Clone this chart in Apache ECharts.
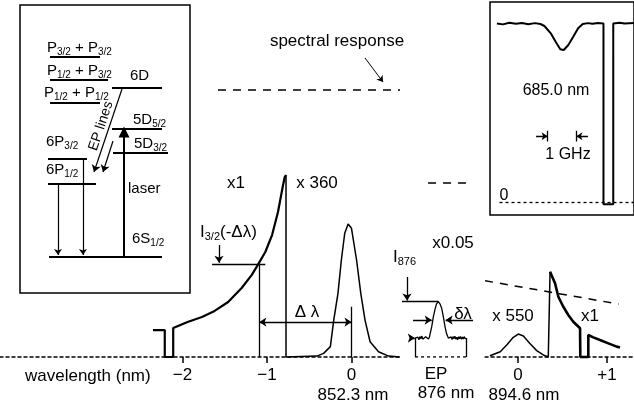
<!DOCTYPE html>
<html lang="en">
<head>
<meta charset="UTF-8">
<title>EP spectrum</title>
<style>html,body{margin:0;padding:0;background:#fff;}</style>
</head>
<body>
<div id="main" style="width:634px;height:411px;"></div>
<script src="https://cdn.jsdelivr.net/npm/echarts@6/dist/echarts.min.js"></script>
<script>
// ---------- data ----------
// level scheme: y = drawing height above 6S1/2, x = horizontal place in the box
var levelNames = ['6S1/2', '6P1/2', '6P3/2', '5D3/2', '5D5/2', '6D', 'P1/2+P1/2', 'P1/2+P3/2', 'P3/2+P3/2'];
var levelY  = [0, 73, 98, 104, 128, 169, 154, 177, 200];
var levelX0 = [29, 28, 28, 93, 92, 92, 30, 30, 30];
var levelX1 = [142, 76, 67, 148, 142, 142, 80, 88, 80];
var laserArrow = [[104, 0], [104, 125]];
var decayArrows = [[[38, 73], [38, 2]], [[63, 98], [63, 2]]];
var epArrows = [[[102, 168], [74, 85]], [[93, 116], [83, 85]]];

// 852.3 nm part: x = wavelength offset (nm), y = signal
var wing852X = [-2.35, -2.21, -2.21, -2.11, -2.11, -2.09, -1.94, -1.77, -1.62, -1.46, -1.30, -1.18, -1.11, -1.02, -0.94, -0.87, -0.81, -0.79, -0.775];
var wing852Y = [0.148, 0.148, 0, 0, 0.159, 0.165, 0.192, 0.220, 0.253, 0.302, 0.379, 0.451, 0.505, 0.577, 0.670, 0.797, 0.945, 0.989, 1.0];
var line852X = [-0.775, -0.775, -0.41, -0.33, -0.25, -0.21, -0.16, -0.12, -0.08, -0.04, 0.0, 0.06, 0.11, 0.16, 0.22, 0.32, 0.44, 0.57];
var line852Y = [1.0, 0, 0.005, 0.02, 0.057, 0.203, 0.35, 0.533, 0.68, 0.731, 0.707, 0.533, 0.35, 0.203, 0.084, 0.029, 0.005, 0];
var ticks852 = [-2, -1, 0];
var tickLabels852 = ['\u22122', '\u22121', '0'];
var deltaLambda = [-1.09, 0];
var i32Level = 0.511;

// EP at 876 nm
var epX = [-0.272, -0.26, -0.249, -0.238, -0.226, -0.215, -0.204, -0.192, -0.181, -0.17, -0.158, -0.147, -0.136, -0.124, -0.113, -0.102, -0.09,
  -0.075, -0.055, -0.036, -0.018, 0.004, 0.024, 0.044, 0.064, 0.083, 0.1, 0.112,
  0.122, 0.133, 0.144, 0.155, 0.166, 0.177, 0.188, 0.199, 0.21, 0.221, 0.232, 0.243, 0.254, 0.265, 0.276, 0.287, 0.298, 0.309, 0.32, 0.331];
var epY = [0.104, 0.113, 0.097, 0.109, 0.095, 0.112, 0.1, 0.115, 0.098, 0.108, 0.094, 0.111, 0.101, 0.114, 0.099, 0.11, 0.118,
  0.166, 0.222, 0.262, 0.292, 0.304, 0.291, 0.266, 0.218, 0.166, 0.13, 0.116,
  0.104, 0.113, 0.097, 0.11, 0.096, 0.112, 0.1, 0.114, 0.098, 0.109, 0.095, 0.111, 0.1, 0.113, 0.097, 0.11, 0.099, 0.112, 0.1, 0.104];
var epBracket = [-0.272, 0.331];
var epPeak = 0.304;
var epHalf = [-0.075, 0.09];
var epHalfY = 0.203;

// 894.6 nm part
var res894X = [-0.315, -0.2, -0.127, -0.053, 0.003, 0.06, 0.131, 0.21, 0.284, 0.34, 0.36, 0.36];
var res894Y = [0.007, 0.029, 0.066, 0.108, 0.126, 0.115, 0.075, 0.035, 0.011, 0, 0, 0.469];
var wing894X = [0.36, 0.379, 0.416, 0.453, 0.509, 0.565, 0.621, 0.697, 0.70, 0.79, 0.79, 0.846, 0.921, 1.015, 1.109, 1.146];
var wing894Y = [0.469, 0.46, 0.405, 0.331, 0.276, 0.231, 0.194, 0.158, 0, 0, 0.121, 0.108, 0.093, 0.075, 0.057, 0.052];
var ticks894 = [0, 1];
var tickLabels894 = ['0', '+1'];

// spectral response (dashed)
var respTopX = [-1.58, 0.574], respTopY = 1.467;
var respEpX = [-0.118, 0.379], respEpY = 0.956;
var resp894X = [-0.37, 1.13], resp894Y = [0.419, 0.291];

// inset: 685.0 nm, x = GHz, y = signal
var insetGHz = [0.24, 0.45, 0.67, 0.9, 1.11, 1.33, 1.56, 1.75, 1.89, 2.11, 2.28, 2.44, 2.56, 2.72, 2.89, 3.06, 3.22, 3.4, 3.56, 3.75, 3.94, 3.94, 4.28, 4.28, 4.5, 4.67, 5.0];
var insetSig = [1.0, 0.995, 1.004, 0.998, 1.003, 0.996, 1.002, 0.997, 0.986, 0.945, 0.898, 0.856, 0.852, 0.88, 0.926, 0.973, 0.997, 1.002, 0.998, 1.003, 1.0, -0.01, -0.01, 1.0, 1.004, 1.0, 1.002];
var ghzMarks = [2, 3];

// ---------- chart ----------
var chart = echarts.init(document.getElementById('main'));
var FONT = 'Liberation Sans, Arial, sans-serif';

function zip(xs, ys) {
    return xs.map(function (x, i) { return [x, ys[i]]; });
}
function curve(g, xs, ys, w) {
    return {
        type: 'line', xAxisIndex: g, yAxisIndex: g, data: zip(xs, ys),
        symbol: 'none', silent: true, animation: false, clip: false,
        lineStyle: {color: '#000', width: w}
    };
}
function segs(g, list, o) {
    o = o || {};
    return {
        type: 'lines', coordinateSystem: 'cartesian2d', xAxisIndex: g, yAxisIndex: g,
        data: list.map(function (c) { return {coords: c}; }),
        symbol: o.symbol || 'none', symbolSize: o.size || 8,
        silent: true, animation: false,
        lineStyle: {color: '#000', width: o.width || 1.5, type: o.type || 'solid', opacity: 1, curveness: 0}
    };
}
function txt(x, y, s, size, align, rich) {
    return {
        type: 'text', x: x, y: y, silent: true,
        style: {
            text: s, fill: '#000', fontSize: size, fontFamily: FONT,
            align: align || 'center', verticalAlign: 'middle',
            textAlign: align || 'center', textVerticalAlign: 'middle',
            rich: rich || {}
        }
    };
}
var sub15 = {a: {fontSize: 15, fontFamily: FONT}, s: {fontSize: 10, fontFamily: FONT, padding: [9, 0, 0, 0]}};
var sub17 = {a: {fontSize: 17, fontFamily: FONT}, s: {fontSize: 11, fontFamily: FONT, padding: [10, 0, 0, 0]}};

var yMain = {type: 'value', min: 0, max: 1.95, show: false};
var hidden = function (min, max) { return {type: 'value', min: min, max: max, show: false}; };
var axisBase = {
    type: 'value', position: 'bottom',
    axisLine: {show: true, onZero: false, lineStyle: {color: '#000', width: 1.5, type: [3, 3]}},
    axisTick: {show: true, length: 6, lineStyle: {color: '#000', width: 1.5}},
    splitLine: {show: false}
};

var levelSegs = levelY.map(function (y, i) { return [[levelX0[i], y], [levelX1[i], y]]; });

var option = {
    backgroundColor: '#fff',
    animation: false,
    textStyle: {fontFamily: FONT},
    grid: [
        {left: 20, top: 5, width: 170, height: 288, show: true, borderColor: '#000', borderWidth: 1.5, backgroundColor: 'transparent'},
        {left: 0, top: 2.1, width: 400.5, height: 354.9},
        {left: 400, top: 2.1, width: 80.3, height: 354.9},
        {left: 485.1, top: 2.1, width: 148.6, height: 354.9},
        {left: 490, top: 2, width: 150, height: 213, show: true, borderColor: '#000', borderWidth: 1.5, backgroundColor: 'transparent'}
    ],
    xAxis: [
        Object.assign(hidden(0, 170), {gridIndex: 0}),
        Object.assign({}, axisBase, {
            gridIndex: 1, min: -4.16, max: 0.58,
            axisTick: {show: true, length: 6, customValues: ticks852, lineStyle: {color: '#000', width: 1.5}},
            axisLabel: {
                customValues: ticks852, margin: 10, color: '#000', fontSize: 17, fontFamily: FONT,
                formatter: function (v) { return tickLabels852[ticks852.indexOf(v)]; }
            }
        }),
        Object.assign(hidden(-0.45, 0.5), {gridIndex: 2}),
        Object.assign({}, axisBase, {
            gridIndex: 3, min: -0.37, max: 1.3,
            axisTick: {show: true, length: 6, customValues: ticks894, lineStyle: {color: '#000', width: 1.5}},
            axisLabel: {
                customValues: ticks894, margin: 10, color: '#000', fontSize: 17, fontFamily: FONT,
                formatter: function (v) { return tickLabels894[ticks894.indexOf(v)]; }
            }
        }),
        Object.assign(hidden(0, 5), {gridIndex: 4})
    ],
    yAxis: [
        Object.assign(hidden(-36, 252), {gridIndex: 0}),
        Object.assign({}, yMain, {gridIndex: 1}),
        Object.assign({}, yMain, {gridIndex: 2}),
        Object.assign({}, yMain, {gridIndex: 3}),
        Object.assign(hidden(-0.07, 1.12), {gridIndex: 4})
    ],
    series: [
        // level scheme
        segs(0, levelSegs, {width: 2}),
        segs(0, [laserArrow], {symbol: ['none', 'triangle'], size: 11, width: 2}),
        segs(0, decayArrows, {symbol: ['none', 'arrow'], size: 6, width: 1.2}),
        segs(0, epArrows, {symbol: ['none', 'arrow'], size: 7, width: 1.2}),

        // 852.3 nm
        curve(1, wing852X, wing852Y, 2.2),
        curve(1, line852X, line852Y, 1.5),
        segs(1, [
            [[-1.65, i32Level], [-1.02, i32Level]],
            [[deltaLambda[0], i32Level], [deltaLambda[0], 0]],
            [[deltaLambda[1], 0.276], [deltaLambda[1], 0]]
        ], {width: 1.3}),
        segs(1, [[[-1.568, 0.615], [-1.568, 0.518]]], {symbol: ['none', 'arrow'], size: 7, width: 1.3}),
        segs(1, [[[deltaLambda[0], 0.192], [deltaLambda[1], 0.192]]], {symbol: ['arrow', 'arrow'], size: 7, width: 1.3}),
        segs(1, [[[respTopX[0], respTopY], [respTopX[1], respTopY]]], {type: [8, 7], width: 1.5}),
        segs(1, [[[0.16, 1.643], [0.373, 1.511]]], {symbol: ['none', 'arrow'], size: 6, width: 1}),

        // EP 876 nm
        curve(2, epX, epY, 1.3),
        segs(2, [
            [[epBracket[0], 0], [epBracket[0], 0.104]],
            [[epBracket[1], 0], [epBracket[1], 0.104]],
            [[-0.426, epPeak], [0.004, epPeak]]
        ], {width: 1.3}),
        segs(2, [[[epBracket[0], 0], [epBracket[1], 0]]], {type: [3, 3], width: 1.5}),
        segs(2, [
            [[-0.367, 0.44], [-0.367, 0.31]],
            [[-0.296, epHalfY], [epHalf[0], epHalfY]],
            [[0.414, epHalfY], [epHalf[1], epHalfY]],
            [[-0.33, 0.104], [-0.275, 0.104]]
        ], {symbol: ['none', 'arrow'], size: 7, width: 1.3}),
        segs(2, [[[respEpX[0], respEpY], [respEpX[1], respEpY]]], {type: [8, 7], width: 1.5}),

        // 894.6 nm
        curve(3, res894X, res894Y, 1.5),
        curve(3, wing894X, wing894Y, 2.6),
        segs(3, [[[resp894X[0], resp894Y[0]], [resp894X[1], resp894Y[1]]]], {type: [8, 7], width: 1.5}),

        // inset
        curve(4, insetGHz, insetSig, 2),
        segs(4, [[[0.33, 0], [5, 0]]], {type: [3, 3], width: 1.3}),
        segs(4, ghzMarks.map(function (g) { return [[g, 0.34], [g, 0.4]]; }), {width: 1.3}),
        segs(4, [[[1.6, 0.37], [ghzMarks[0], 0.37]], [[3.4, 0.37], [ghzMarks[1], 0.37]]], {symbol: ['none', 'arrow'], size: 6, width: 1.3})
    ],
    graphic: [
        // level scheme texts
        txt(47, 48, '{a|P}{s|3/2}{a| + P}{s|3/2}', 15, 'left', sub15),
        txt(47, 71, '{a|P}{s|1/2}{a| + P}{s|3/2}', 15, 'left', sub15),
        txt(44, 93, '{a|P}{s|1/2}{a| + P}{s|1/2}', 15, 'left', sub15),
        txt(130, 76, '6D', 15, 'left'),
        txt(133, 120, '{a|5D}{s|5/2}', 15, 'left', sub15),
        txt(134, 144, '{a|5D}{s|3/2}', 15, 'left', sub15),
        txt(46, 142, '{a|6P}{s|3/2}', 15, 'left', sub15),
        txt(46, 170, '{a|6P}{s|1/2}', 15, 'left', sub15),
        txt(128, 189, 'laser', 15, 'left'),
        txt(132, 239, '{a|6S}{s|1/2}', 15, 'left', sub15),
        Object.assign(txt(101, 126, 'EP lines', 14, 'center'), {rotation: 1.25}),

        // spectrum texts
        txt(337, 41, 'spectral response', 17),
        txt(236, 183, 'x1', 17),
        txt(317, 183, 'x 360', 17),
        txt(200, 232, '{a|I}{s|3/2}{a|(-\u0394\u03bb)}', 17, 'left', sub17),
        txt(307, 312, '\u0394 \u03bb', 17),
        txt(453, 243, 'x0.05', 17),
        txt(393, 257, '{a|I}{s|876}', 17, 'left', sub17),
        txt(463, 314, '\u03b4\u03bb', 17),
        txt(513, 316, 'x 550', 17),
        txt(590, 316, 'x1', 17),
        txt(25, 376, 'wavelength (nm)', 17, 'left'),
        txt(353, 395, '852.3 nm', 17),
        txt(436, 374, 'EP', 17),
        txt(446, 393, '876 nm', 17),
        txt(524, 395, '894.6 nm', 17),

        // inset texts
        txt(556, 91, '685.0 nm', 16),
        txt(568, 155, '1 GHz', 16),
        txt(504, 196, '0', 16)
    ]
};
chart.setOption(option);
</script>
</body>
</html>
